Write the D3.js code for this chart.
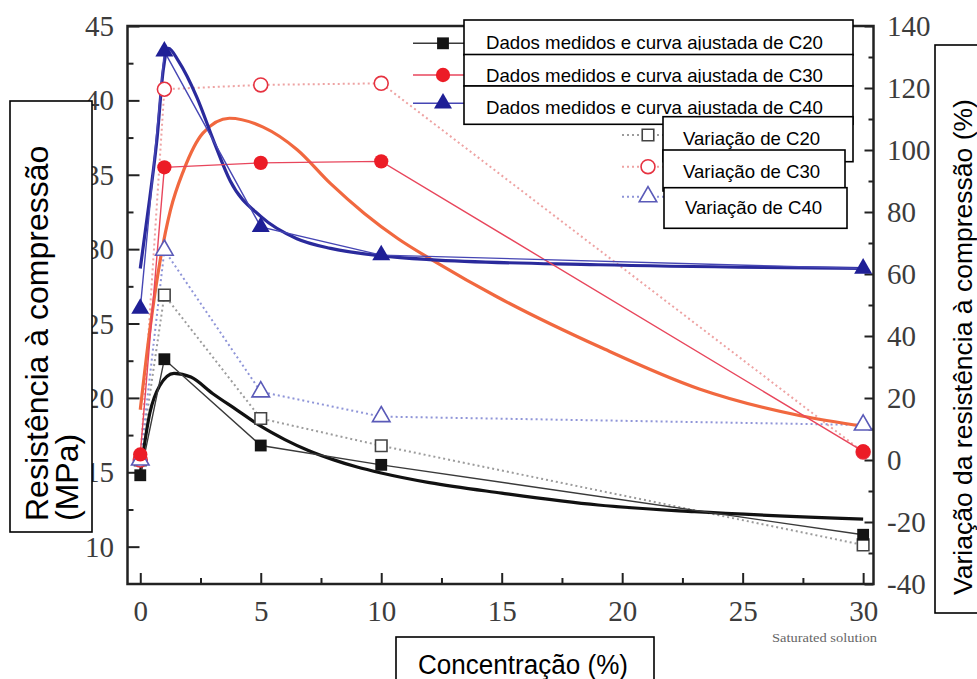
<!DOCTYPE html>
<html>
<head>
<meta charset="utf-8">
<script src="https://cdn.jsdelivr.net/npm/d3@7"></script>
<style>
  html, body { margin: 0; padding: 0; background: #fff; }
  svg { display: block; }
</style>
</head>
<body>
<svg id="chart" width="977" height="679"></svg>
<script>
// measured points (left axis, MPa)
const concentrations = [0, 1, 5, 10, 30]
const strengthC20 = [14.8, 22.6, 16.8, 15.5, 10.8]
const strengthC30 = [16.2, 35.5, 35.8, 35.9, 16.4]
const strengthC40 = [26.0, 43.3, 31.5, 29.6, 28.7]

// variation (right axis, %)
const variationC20 = [0, 53.2, 13.4, 4.6, -27.4]
const variationC30 = [0, 119.6, 121.0, 121.5, 2.6]
const variationC40 = [0, 67.7, 22.0, 14.0, 11.3]

// fitted curves [concentration, MPa]
const fitC20 = [[0, 14.9], [0.4, 19.0], [0.8, 20.8], [1.4, 21.65], [2.1, 21.4], [3, 20.3], [4, 19.2], [5, 18.1],
  [6, 17.2], [7, 16.45], [8, 15.85], [9, 15.35], [10, 14.95], [12, 14.3], [15, 13.6], [19, 12.8], [23, 12.35], [30, 11.85]]
const fitC30 = [[0, 19.2], [0.4, 24.6], [0.8, 29.0], [1.25, 32.6], [1.8, 35.3], [2.6, 37.8], [3.7, 38.8], [5.1, 38.2],
  [6.5, 36.7], [7.9, 34.4], [9.3, 32.4], [10.7, 30.7], [12.3, 29.1], [14.8, 26.8], [19.1, 23.4], [23.2, 20.6],
  [27.4, 18.8], [30, 18.1]]
const fitC40 = [[0, 28.7], [0.4, 33.5], [0.7, 37.5], [0.95, 42.0], [1.17, 43.5], [1.6, 42.6], [2.35, 40.2], [3.04, 37.3],
  [3.73, 34.6], [5, 32.2], [6.5, 30.7], [7.9, 30.05], [10, 29.55], [12, 29.3], [19, 28.95], [30, 28.7]]

// ticks
const xTicks = [0, 5, 10, 15, 20, 25, 30]
const xMinorTicks = [2.5, 7.5, 12.5, 17.5, 22.5, 27.5]
const leftTicks = [10, 15, 20, 25, 30, 35, 40, 45]
const leftMinorTicks = [12.5, 17.5, 22.5, 27.5, 32.5, 37.5, 42.5]
const rightTicks = [-40, -20, 0, 20, 40, 60, 80, 100, 120, 140]
const rightMinorTicks = [-30, -10, 10, 30, 50, 70, 90, 110, 130]

// texts
const legendMeasured = ['Dados medidos e curva ajustada de C20', 'Dados medidos e curva ajustada de C30', 'Dados medidos e curva ajustada de C40']
const legendVariation = ['Variação de C20', 'Variação de C30', 'Variação de C40']
const leftTitle = ['Resistência à compressão', '(MPa)']
const rightTitle = 'Variação da resistência à compressão (%)'
const xTitle = 'Concentração (%)'
const xNote = 'Saturated solution'

const width = 977
const height = 679
const plot = { left: 127.5, right: 873.5, top: 26, bottom: 584 }

const svg = d3.select('#chart')
svg.append('rect').attr('width', width).attr('height', height).attr('fill', '#fff')

const x = d3.scaleLinear([-0.53, 30.43], [plot.left, plot.right])
const yL = d3.scaleLinear([7.49, 45], [plot.bottom, plot.top])
const yR = d3.scaleLinear([-40, 140], [plot.bottom, plot.top])

const serif = 'Liberation Serif, Times New Roman, serif'
const sans = 'Liberation Sans, Arial, sans-serif'
const plain = (d) => String(d) // keep the hyphen minus of the original

const series = [
  { strength: strengthC20, variation: variationC20, fit: fitC20, symbol: d3.symbolSquare, size: 140,
    fill: '#141414', thin: '#3a3a3a', thick: '#111', open: '#444', dotted: '#9c9c9c' },
  { strength: strengthC30, variation: variationC30, fit: fitC30, symbol: d3.symbolCircle, size: 160,
    fill: '#ec1c26', thin: '#e8465c', thick: '#f1683f', open: '#e63240', dotted: '#eea3a3' },
  { strength: strengthC40, variation: variationC40, fit: fitC40, symbol: d3.symbolTriangle, size: 140,
    fill: '#1f1f96', thin: '#4646b4', thick: '#2a2a9c', open: '#5a5ab8', dotted: '#8f95d8' },
]

// axes (ticks inside, domain drawn as a frame later)
function styleTicks(g) {
  g.select('.domain').remove()
  g.selectAll('line').attr('stroke', '#222').attr('stroke-width', 2)
}

svg.append('g').attr('transform', `translate(0,${plot.bottom})`)
  .call(d3.axisBottom(x).tickValues(xTicks).tickFormat(plain).tickSizeInner(-11).tickSizeOuter(0))
  .call(styleTicks)
  .call((g) => g.selectAll('text').attr('y', 37).attr('dy', 0)
    .attr('font-family', serif).attr('font-size', 29).attr('fill', '#3c3c3c'))
svg.append('g').attr('transform', `translate(0,${plot.bottom})`)
  .call(d3.axisBottom(x).tickValues(xMinorTicks).tickSizeInner(-6).tickSizeOuter(0).tickFormat(''))
  .call(styleTicks)

svg.append('g').attr('transform', `translate(${plot.left},0)`)
  .call(d3.axisLeft(yL).tickValues(leftTicks).tickFormat(plain).tickSizeInner(-12).tickSizeOuter(0))
  .call(styleTicks)
  .call((g) => g.selectAll('text').attr('x', -13.5).attr('dy', '0.33em')
    .attr('font-family', serif).attr('font-size', 29).attr('fill', '#3c3c3c'))
svg.append('g').attr('transform', `translate(${plot.left},0)`)
  .call(d3.axisLeft(yL).tickValues(leftMinorTicks).tickSizeInner(-6).tickSizeOuter(0).tickFormat(''))
  .call(styleTicks)

svg.append('g').attr('transform', `translate(${plot.right},0)`)
  .call(d3.axisRight(yR).tickValues(rightTicks).tickFormat(plain).tickSizeInner(-9).tickSizeOuter(0))
  .call(styleTicks)
  .call((g) => g.selectAll('text').attr('x', 13.5).attr('dy', '0.33em')
    .attr('font-family', serif).attr('font-size', 29).attr('fill', '#3c3c3c'))
svg.append('g').attr('transform', `translate(${plot.right},0)`)
  .call(d3.axisRight(yR).tickValues(rightMinorTicks).tickSizeInner(-5).tickSizeOuter(0).tickFormat(''))
  .call(styleTicks)

svg.append('text')
  .attr('x', 877).attr('y', 642)
  .attr('text-anchor', 'end')
  .attr('font-family', serif).attr('font-size', 13).attr('fill', '#666')
  .attr('textLength', 105).attr('lengthAdjust', 'spacingAndGlyphs')
  .text(xNote)

const viz = svg.append('g').attr('id', 'viz')

// variation: dotted lines + open markers (right axis)
const lineR = d3.line().x((d, i) => x(concentrations[i])).y((d) => yR(d))
viz.append('g').selectAll('path')
  .data(series)
  .join('path')
  .attr('d', (s) => lineR(s.variation))
  .attr('fill', 'none')
  .attr('stroke', (s) => s.dotted)
  .attr('stroke-width', 2)
  .attr('stroke-dasharray', '2,3')

// fitted curves
const fitLine = d3.line().x((d) => x(d[0])).y((d) => yL(d[1])).curve(d3.curveMonotoneX)
viz.append('g').selectAll('path')
  .data(series)
  .join('path')
  .attr('d', (s) => fitLine(s.fit))
  .attr('fill', 'none')
  .attr('stroke', (s) => s.thick)
  .attr('stroke-width', 3.2)

// measured: thin lines
const lineL = d3.line().x((d, i) => x(concentrations[i])).y((d) => yL(d))
viz.append('g').selectAll('path')
  .data(series)
  .join('path')
  .attr('d', (s) => lineL(s.strength))
  .attr('fill', 'none')
  .attr('stroke', (s) => s.thin)
  .attr('stroke-width', 1.4)

// open markers
series.forEach((s) => {
  viz.append('g').selectAll('path')
    .data(s.variation)
    .join('path')
    .attr('transform', (d, i) => `translate(${x(concentrations[i])},${yR(d)})`)
    .attr('d', d3.symbol(s.symbol, s.size * 0.95))
    .attr('fill', '#fff')
    .attr('stroke', s.open)
    .attr('stroke-width', 1.6)
})

// filled markers
series.forEach((s) => {
  viz.append('g').selectAll('path')
    .data(s.strength)
    .join('path')
    .attr('transform', (d, i) => `translate(${x(concentrations[i])},${yL(d)})`)
    .attr('d', d3.symbol(s.symbol, s.size))
    .attr('fill', s.fill)
})

// frame
svg.append('rect')
  .attr('x', plot.left).attr('y', plot.top)
  .attr('width', plot.right - plot.left).attr('height', plot.bottom - plot.top)
  .attr('fill', 'none').attr('stroke', '#222').attr('stroke-width', 2.5)

// legend symbols (original legend, partly covered)
const legendRowsA = [43.3, 75, 103.3]
const legendRowsB = [135, 166.7, 196.7]
const legend = svg.append('g').attr('id', 'legend')
series.forEach((s, i) => {
  legend.append('line').attr('x1', 413).attr('x2', 466).attr('y1', legendRowsA[i]).attr('y2', legendRowsA[i])
    .attr('stroke', s.thin).attr('stroke-width', 1.4)
  legend.append('path').attr('transform', `translate(443,${legendRowsA[i]})`)
    .attr('d', d3.symbol(s.symbol, s.size)).attr('fill', s.fill)
  legend.append('line').attr('x1', 622).attr('x2', 666).attr('y1', legendRowsB[i]).attr('y2', legendRowsB[i])
    .attr('stroke', s.dotted).attr('stroke-width', 2).attr('stroke-dasharray', '2,3')
  legend.append('path').attr('transform', `translate(648,${legendRowsB[i]})`)
    .attr('d', d3.symbol(s.symbol, s.size * 0.95)).attr('fill', '#fff')
    .attr('stroke', s.open).attr('stroke-width', 1.6)
})

// translated label boxes
const boxesA = [
  { x: 464, y: 20, w: 389, h: 35, base: 49 },
  { x: 464, y: 54.5, w: 389, h: 31.5, base: 81.7 },
  { x: 464, y: 86, w: 389, h: 38.3, base: 114 },
]
const boxesB = [
  { x: 663, y: 116.7, w: 190, h: 45, base: 145, tx: 683 },
  { x: 663, y: 150, w: 182, h: 41, base: 178.3, tx: 683 },
  { x: 664, y: 187.7, w: 183, h: 40.6, base: 214.3, tx: 685 },
]
const defs = svg.append('defs')
boxesA.forEach((b, i) => {
  defs.append('clipPath').attr('id', `clipA${i}`)
    .append('rect').attr('x', b.x).attr('y', b.y).attr('width', b.w).attr('height', b.base + 1.2 - b.y)
  legend.append('rect').attr('x', b.x).attr('y', b.y).attr('width', b.w).attr('height', b.h)
    .attr('fill', '#fff').attr('stroke', '#000').attr('stroke-width', 1.6)
  legend.append('text').attr('x', 486).attr('y', b.base)
    .attr('clip-path', `url(#clipA${i})`)
    .attr('font-family', sans).attr('font-size', 18.6).attr('fill', '#000')
    .attr('textLength', 337).attr('lengthAdjust', 'spacingAndGlyphs')
    .text(legendMeasured[i])
})
boxesB.forEach((b, i) => {
  legend.append('rect').attr('x', b.x).attr('y', b.y).attr('width', b.w).attr('height', b.h)
    .attr('fill', '#fff').attr('stroke', '#000').attr('stroke-width', 1.6)
  legend.append('text').attr('x', b.tx).attr('y', b.base)
    .attr('font-family', sans).attr('font-size', 18.6).attr('fill', '#000')
    .text(legendVariation[i])
})

// axis title boxes
svg.append('rect').attr('x', 10).attr('y', 101).attr('width', 82).attr('height', 431)
  .attr('fill', '#fff').attr('stroke', '#000').attr('stroke-width', 1.6)
leftTitle.forEach((t, i) => {
  const bx = [48, 78][i]
  svg.append('text')
    .attr('transform', `translate(${bx},521) rotate(-90)`)
    .attr('font-family', sans).attr('font-size', 32).attr('fill', '#000')
    .text(t)
})

svg.append('rect').attr('x', 935).attr('y', 45).attr('width', 60).attr('height', 568)
  .attr('fill', '#fff').attr('stroke', '#000').attr('stroke-width', 1.6)
svg.append('text')
  .attr('transform', 'translate(972,595) rotate(-90)')
  .attr('font-family', sans).attr('font-size', 26.5).attr('fill', '#000')
  .text(rightTitle)

svg.append('rect').attr('x', 396).attr('y', 637).attr('width', 258).attr('height', 60)
  .attr('fill', '#fff').attr('stroke', '#000').attr('stroke-width', 1.6)
svg.append('text')
  .attr('x', 523).attr('y', 674)
  .attr('text-anchor', 'middle')
  .attr('font-family', sans).attr('font-size', 27).attr('fill', '#000')
  .attr('textLength', 210).attr('lengthAdjust', 'spacingAndGlyphs')
  .text(xTitle)
</script>
</body>
</html>
